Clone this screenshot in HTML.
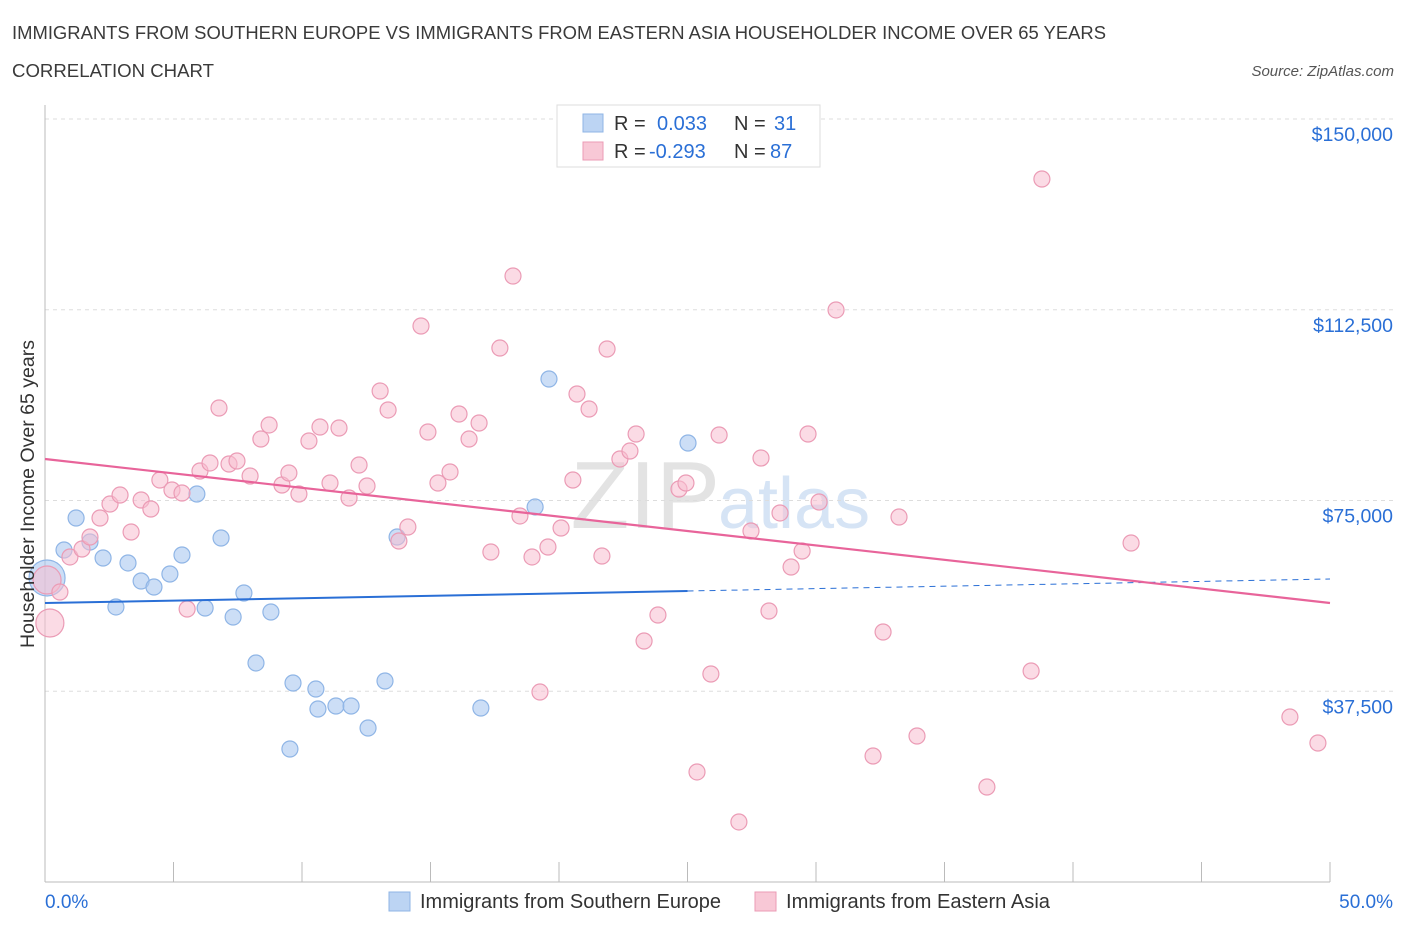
<!DOCTYPE html>
<html><head><meta charset="utf-8">
<style>
body{margin:0;background:#fff;font-family:"Liberation Sans",sans-serif;}
svg text{font-family:"Liberation Sans",sans-serif;}
</style></head>
<body>
<svg id="chart" width="1406" height="930" xmlns="http://www.w3.org/2000/svg">
<text x="12" y="39" font-size="18" fill="#3a3a3a" textLength="1094" lengthAdjust="spacingAndGlyphs">IMMIGRANTS FROM SOUTHERN EUROPE VS IMMIGRANTS FROM EASTERN ASIA HOUSEHOLDER INCOME OVER 65 YEARS</text>
<text x="12" y="77" font-size="18" fill="#3a3a3a" textLength="202" lengthAdjust="spacingAndGlyphs">CORRELATION CHART</text>
<text x="1394" y="76" font-size="15" fill="#555" font-style="italic" text-anchor="end">Source: ZipAtlas.com</text>
<text x="720" y="528" font-size="96" fill="#e3e3e3" text-anchor="end" font-family="Liberation Serif">ZIP</text>
<text x="718" y="528" font-size="72" fill="#d6e4f5">atlas</text>
<g id="grid"></g>
<g id="axes"></g>
<g id="marks"></g>
<text transform="translate(34,494) rotate(-90)" font-size="19" fill="#333" text-anchor="middle" textLength="308" lengthAdjust="spacingAndGlyphs">Householder Income Over 65 years</text>
<g>
<rect x="557" y="105" width="263" height="62" fill="#fff" stroke="#ddd"/>
<rect x="583" y="114" width="20" height="18" fill="#bcd4f3" stroke="#8fb5e6"/>
<text x="614" y="130" font-size="20" fill="#333">R =</text>
<text x="657" y="130" font-size="20" fill="#2a6fd6">0.033</text>
<text x="734" y="130" font-size="20" fill="#333">N =</text>
<text x="774" y="130" font-size="20" fill="#2a6fd6">31</text>
<rect x="583" y="142" width="20" height="18" fill="#f8c8d6" stroke="#eb9bb5"/>
<text x="614" y="158" font-size="20" fill="#333">R =</text>
<text x="649" y="158" font-size="20" fill="#2a6fd6">-0.293</text>
<text x="734" y="158" font-size="20" fill="#333">N =</text>
<text x="770" y="158" font-size="20" fill="#2a6fd6">87</text>
</g>
<text x="45" y="908" font-size="19" fill="#2a6fd6">0.0%</text>
<text x="1393" y="908" font-size="19" fill="#2a6fd6" text-anchor="end">50.0%</text>
<rect x="389" y="892" width="21" height="19" fill="#bcd4f3" stroke="#8fb5e6"/>
<text x="420" y="908" font-size="20" fill="#333" textLength="301" lengthAdjust="spacingAndGlyphs">Immigrants from Southern Europe</text>
<rect x="755" y="892" width="21" height="19" fill="#f8c8d6" stroke="#eb9bb5"/>
<text x="786" y="908" font-size="20" fill="#333" textLength="264" lengthAdjust="spacingAndGlyphs">Immigrants from Eastern Asia</text>
</svg>
<script>
const yTicks=[37500,75000,112500,150000];
const yTickLabels=["$37,500","$75,000","$112,500","$150,000"];
const xTicks=[0,5,10,15,20,25,30,35,40,45,50];
const blueX=[0.08,1.21,0.74,1.75,2.26,2.76,3.23,3.74,4.24,4.86,5.33,5.91,6.23,6.85,7.32,7.74,8.21,8.79,9.65,9.53,10.54,10.62,11.32,11.91,12.57,13.23,13.70,16.96,19.07,19.61,25.02];
const blueY=[59770,71560,65270,66840,63700,54070,62720,59180,58000,60550,64290,76280,53870,67630,52100,56820,43060,53080,39120,26150,37940,34010,34600,34600,30280,39520,67830,34210,73730,98890,86310];
const pinkX=[0.08,0.19,0.58,0.97,1.44,1.75,2.14,2.53,2.92,3.35,3.74,4.12,4.47,4.94,5.33,5.53,6.03,6.42,6.77,7.16,7.47,7.98,8.40,8.72,9.22,9.49,9.88,10.27,10.70,11.09,11.44,11.83,12.22,12.53,13.04,13.35,13.77,14.12,14.63,14.90,15.29,15.76,16.11,16.50,16.89,17.35,17.70,18.21,18.48,18.95,19.26,19.57,20.08,20.54,20.70,21.17,21.67,21.87,22.37,22.76,23.00,23.31,23.85,24.67,24.94,25.37,25.91,26.23,27.00,27.47,27.86,28.17,28.60,29.03,29.46,29.69,30.12,30.78,32.22,32.61,33.23,33.93,36.65,38.37,38.79,42.26,48.44,49.53];
const pinkY=[59370,50920,57010,63900,65470,67830,71560,74310,76080,68810,75100,73330,79030,77070,76480,53670,80800,82380,93190,82180,82770,79820,87090,89850,78050,80410,76280,86700,89450,78440,89260,75490,81980,77850,96530,92800,67040,69790,109310,88470,78440,80610,92010,87090,90240,64880,104980,119140,71960,63900,37350,65860,69600,79030,95940,92990,64090,104790,83160,84730,88080,47380,52490,77260,78440,21630,40890,87880,11800,69010,83360,53280,72550,61930,65070,88080,74710,112460,24770,49150,71760,28700,18680,41480,138210,66650,32440,27330];
const blueTrend=[54850,59570];
const pinkTrend=[83160,54850];
const NS="http://www.w3.org/2000/svg";
function X(p){return 45+p*25.7;}
function Y(v){return 882-v/196.6;}
function mk(t,a,parent){const e=document.createElementNS(NS,t);for(const k in a)e.setAttribute(k,a[k]);document.getElementById(parent).appendChild(e);return e;}
yTicks.forEach((t,i)=>{
 const l=mk('line',{x1:45,x2:1393,y1:Y(t),y2:Y(t),stroke:'#ddd','stroke-dasharray':'4,4'},'grid');
 
 
 const tx=mk('text',{x:1393,y:Y(t)+22,'font-size':19.5,fill:'#2a6fd6','text-anchor':'end'},'grid');
 tx.textContent=yTickLabels[i];
 
 
});
const ax=mk('line',{x1:45,x2:45,y1:105,y2:882,stroke:'#bbb'},'axes');


const bx=mk('line',{x1:45,x2:1330,y1:882,y2:882,stroke:'#bbb'},'axes');


xTicks.forEach(t=>{
 const l=mk('line',{x1:X(t),x2:X(t),y1:862,y2:882,stroke:'#bbb'},'axes');
 
 
});
blueX.forEach((x,i)=>{
 const c=mk('circle',{cx:X(x),cy:Y(blueY[i]),r:i===0?18:8,fill:'rgba(170,200,240,0.6)',stroke:'#8fb5e6','stroke-width':1.2},'marks');
 
 
});
pinkX.forEach((x,i)=>{
 const c=mk('circle',{cx:X(x),cy:Y(pinkY[i]),r:i<2?14:8,fill:'rgba(247,190,208,0.55)',stroke:'#eb9bb5','stroke-width':1.2},'marks');
 
 
});
const b1=mk('line',{x1:X(0),y1:Y(blueTrend[0]),x2:X(25),y2:Y((blueTrend[0]+blueTrend[1])/2),stroke:'#2a6fd6','stroke-width':2},'marks');


const b2=mk('line',{x1:X(25),y1:Y((blueTrend[0]+blueTrend[1])/2),x2:X(50),y2:Y(blueTrend[1]),stroke:'#2a6fd6','stroke-width':1,'stroke-dasharray':'6,5'},'marks');


const p1=mk('line',{x1:X(0),y1:Y(pinkTrend[0]),x2:X(50),y2:Y(pinkTrend[1]),stroke:'#e8649a','stroke-width':2.2},'marks');


</script>
</body></html>
